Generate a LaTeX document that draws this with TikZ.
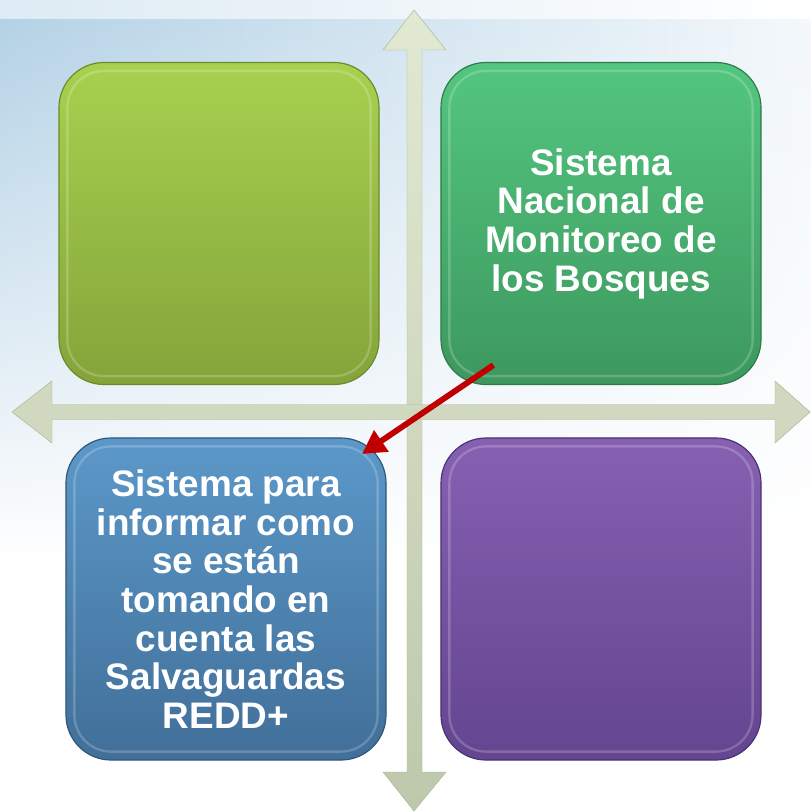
\documentclass[tikz,border=0pt]{standalone}
\usepackage{fontspec}
\setmainfont{Liberation Sans}
\usetikzlibrary{arrows.meta, calc, fadings}

\definecolor{limetop}{HTML}{A8D14F}
\definecolor{limebot}{HTML}{84A43A}
\definecolor{limeline}{HTML}{6C8A2C}
\definecolor{greentop}{HTML}{53C680}
\definecolor{greenbot}{HTML}{3D985E}
\definecolor{greenline}{HTML}{2F7A4A}
\definecolor{bluetop}{HTML}{5B98C9}
\definecolor{bluebot}{HTML}{416F99}
\definecolor{blueline}{HTML}{2F5878}
\definecolor{purpletop}{HTML}{8760B2}
\definecolor{purplebot}{HTML}{634590}
\definecolor{purpleline}{HTML}{4C3270}
\definecolor{axislight}{HTML}{E2E9D3}
\definecolor{axisdark}{HTML}{BEC8AB}
\definecolor{axisedge}{HTML}{AAB596}
\definecolor{bgblue}{HTML}{B4D2E6}
\definecolor{linkred}{HTML}{C00000}

\begin{document}
\begin{tikzpicture}[x=0.03cm, y=-0.03cm, >=Stealth,
    tile/.style={rectangle, rounded corners=1.35cm, minimum width=9.6cm,
      minimum height=9.66cm, inner sep=0pt, line width=1pt, align=center,
      text=white, font=\bfseries\fontsize{31.5}{33}\selectfont},
    rim/.style={draw=white, opacity=.2, line width=2pt, rounded corners=1.1cm},
    link/.style={draw=linkred, line width=5pt, -{Triangle[length=20pt, width=21pt]}}]
  \useasboundingbox (0,0) rectangle (811,812);

  % Background
  \fill[white] (0,0) rectangle (811,812);
  \shade[left color=bgblue, right color=bgblue!15, path fading=south] (0,18) rectangle (811,560);
  \shade[left color=bgblue!45, right color=white] (0,0) rectangle (811,18);

  % Axes
  \shade[top color=axislight, bottom color=axisdark, draw=axisedge, line width=.4pt]
    (414,10) -- (446,50) -- (422,50) -- (422,772) -- (446,772) -- (414,811)
    -- (383,772) -- (407,772) -- (407,50) -- (383,50) -- cycle;
  \fill[axislight!50!axisdark, draw=axisedge, line width=.4pt]
    (12,412) -- (52,381) -- (52,404.5) -- (775,404.5) -- (775,381) -- (810,412)
    -- (775,443) -- (775,419.5) -- (52,419.5) -- (52,443) -- cycle;

  % Tiles
  \node[tile, top color=limetop, bottom color=limebot, draw=limeline] (lime) at (219,223.5) {};
  \node[tile, top color=greentop, bottom color=greenbot, draw=greenline] (green) at (601,223.5)
    {Sistema\\Nacional de\\Monitoreo de\\los Bosques};
  \node[tile, top color=bluetop, bottom color=bluebot, draw=blueline] (blue) at (226,599)
    {Sistema para\\informar como\\se están\\tomando en\\cuenta las\\Salvaguardas\\REDD+};
  \node[tile, top color=purpletop, bottom color=purplebot, draw=purpleline] (purple) at (601,599) {};

  \foreach \t in {lime,green,blue,purple}
    \draw[rim] ($(\t.north west)+(9,9)$) rectangle ($(\t.south east)+(-9,-9)$);

  % Link
  \coordinate (src) at ($(green.south west)+(53,-20)$);
  \coordinate (dst) at (362,454);
  \draw[link] (src) -- (dst);
\end{tikzpicture}
\end{document}
